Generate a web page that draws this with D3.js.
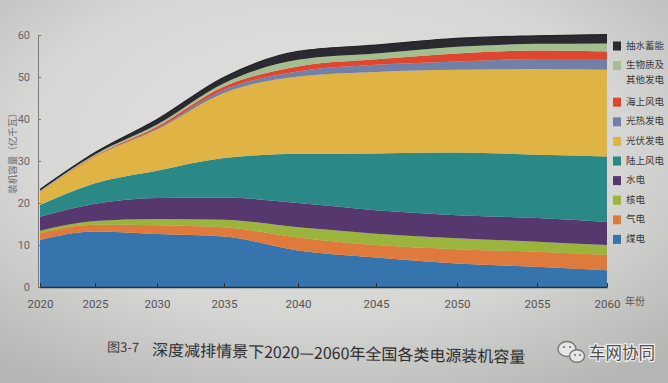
<!DOCTYPE html>
<html><head><meta charset="utf-8">
<script src="https://cdn.jsdelivr.net/npm/d3@7"></script>
<style>
html,body{margin:0;padding:0;overflow:hidden;background:#d4d4d2}
svg{display:block;font-family:"Noto Sans CJK SC","Noto Sans",sans-serif}
</style>
</head><body>
<svg id="chart" width="668" height="383"></svg>
<script>
// ---------------- data (亿千瓦) ----------------
const years = [2020, 2025, 2030, 2035, 2040, 2045, 2050, 2055, 2060];
const seriesNames = ["煤电", "气电", "核电", "水电", "陆上风电", "光伏发电", "光热发电", "海上风电", "生物质及其他发电", "抽水蓄能"];
const coal          = [11.2, 13.2, 12.6, 12.0, 8.7, 7.0, 5.6, 4.8, 4.0];
const gas           = [1.6, 1.6, 2.1, 2.2, 3.1, 3.0, 3.4, 3.6, 3.6];
const nuclear       = [0.6, 0.9, 1.5, 1.8, 2.4, 2.7, 2.6, 2.4, 2.4];
const hydro         = [3.3, 4.1, 5.0, 5.3, 5.8, 5.6, 5.5, 5.6, 5.5];
const onshoreWind   = [2.8, 4.9, 6.5, 9.4, 11.7, 13.5, 14.9, 15.1, 15.6];
const solarPV       = [3.0, 6.3, 9.8, 15.5, 18.4, 19.4, 19.7, 20.4, 20.6];
const solarThermal  = [0.01, 0.07, 0.23, 0.75, 1.2, 1.7, 2.0, 2.4, 2.6];
const offshoreWind  = [0.1, 0.18, 0.45, 0.78, 1.2, 1.3, 1.9, 2.0, 1.8];
const biomass       = [0.3, 0.3, 0.5, 0.78, 1.6, 1.4, 1.6, 1.6, 1.9];
const pumpedStorage = [0.3, 0.45, 1.2, 1.45, 2.0, 2.0, 2.0, 1.9, 2.1];
const yTicks = [0, 10, 20, 30, 40, 50, 60];
const yAxisTitle = "装机容量（亿千瓦）";
const xAxisUnit = "年份";
const captionNo = "图3-7";
const captionText = "深度减排情景下2020—2060年全国各类电源装机容量";
const watermark = "车网协同";
const legendLines = {"生物质及其他发电": ["生物质及", "其他发电"]};

// ---------------- styles / layout ----------------
const colors = ["#3674ae", "#e07a3c", "#9ab43c", "#56386f", "#2a8887", "#dfb344", "#7080a8", "#e0462f", "#a3bf90", "#2b2a30"];
const layout = {
  // tick positions along the photographed (perspective-bent) page
  xStops: [40, 95, 157, 224, 298, 376, 457, 537, 607],
  yBottom: 287, yTop: 35, axisX: 38
};

const svg = d3.select("#chart");
const defs = svg.append("defs");
const rg = defs.append("radialGradient").attr("id", "bg").attr("cx", "48%").attr("cy", "38%").attr("r", "75%");
rg.append("stop").attr("offset", "0%").attr("stop-color", "#e3e3e1");
rg.append("stop").attr("offset", "60%").attr("stop-color", "#d6d6d4");
rg.append("stop").attr("offset", "100%").attr("stop-color", "#b5b5b3");
svg.append("rect").attr("width", 668).attr("height", 383).attr("fill", "url(#bg)");

const x = d3.scaleLinear().domain(years).range(layout.xStops);
const y = d3.scaleLinear().domain([0, 60]).range([layout.yBottom, layout.yTop]);

const seriesValues = [coal, gas, nuclear, hydro, onshoreWind, solarPV, solarThermal, offshoreWind, biomass, pumpedStorage];
const table = years.map((yr, i) => {
  const row = {year: yr};
  seriesNames.forEach((n, j) => row[n] = seriesValues[j][i]);
  return row;
});
const stacked = d3.stack().keys(seriesNames)(table);
const area = d3.area()
  .x(d => x(d.data.year))
  .y0(d => y(d[0]))
  .y1(d => y(d[1]))
  .curve(d3.curveMonotoneX);

svg.append("g").selectAll("path").data(stacked).join("path")
  .attr("d", area)
  .attr("fill", (d, i) => colors[i]);

// top dark edge
const topLine = d3.line().x(d => x(d.data.year)).y(d => y(d[1])).curve(d3.curveMonotoneX);
svg.append("path").datum(stacked[stacked.length - 1]).attr("d", topLine)
  .attr("fill", "none").attr("stroke", "#232226").attr("stroke-width", 1.2);

// y axis
const gy = svg.append("g").attr("transform", `translate(${layout.axisX},0)`)
  .call(d3.axisLeft(y).tickValues(yTicks).tickSize(-3).tickPadding(8));
gy.select(".domain").attr("stroke", "#7a7a7a");
gy.selectAll(".tick line").attr("stroke", "#7a7a7a");
gy.selectAll("text").attr("fill", "#666").attr("font-size", 11).attr("font-family", "Roboto, 'Noto Sans', sans-serif");

svg.append("text")
  .attr("transform", `translate(13,${(layout.yBottom + layout.yTop) / 2 - 10}) rotate(-90)`)
  .attr("text-anchor", "middle").attr("dominant-baseline", "middle")
  .attr("font-size", 9.5).attr("fill", "#6a6a6a").text(yAxisTitle);

// x axis
const gx = svg.append("g").attr("transform", `translate(0,${layout.yBottom})`)
  .call(d3.axisBottom(x).tickValues(years).tickFormat(d3.format("d")).tickSize(-4).tickPadding(13).tickSizeOuter(0));
gx.select(".domain").attr("stroke", "#2e2e30").attr("stroke-width", 1.5);
gx.selectAll(".tick line").attr("stroke", "#2e2e30");
gx.selectAll("text").attr("fill", "#555").attr("font-size", 11.5).attr("font-family", "Roboto, 'Noto Sans', sans-serif");

svg.append("text").attr("x", x(2060) + 18).attr("y", layout.yBottom + 18)
  .attr("font-size", 10).attr("fill", "#555").text(xAxisUnit);

// legend
const legend = svg.append("g");
const order = seriesNames.map((n, i) => ({name: n, color: colors[i]})).reverse();
order.forEach((d, i) => {
  const yy = 46 + i * 19.6 + (i >= 2 ? 17 : 0);
  legend.append("rect").attr("x", 613).attr("y", yy - 4.5).attr("width", 8).attr("height", 9).attr("fill", d.color);
  const lines = legendLines[d.name] || [d.name];
  lines.forEach((t, k) => {
    legend.append("text").attr("x", 626).attr("y", yy + k * 15)
      .attr("dominant-baseline", "middle").attr("font-size", 9.5).attr("fill", "#3a3a3a").text(t);
  });
});

// caption
const cap = svg.append("g").attr("transform", "rotate(1.1, 330, 355)");
cap.append("text").attr("x", 107).attr("y", 356).attr("font-size", 13).attr("fill", "#3a3a3a").text(captionNo);
cap.append("text").attr("x", 152).attr("y", 359).attr("font-size", 16).attr("fill", "#2e2e2e").text(captionText);

// watermark
const wm = svg.append("g");
wm.append("ellipse").attr("cx", 567).attr("cy", 349).attr("rx", 9).attr("ry", 7.5)
  .attr("fill", "#e6e6e6").attr("stroke", "#777").attr("stroke-width", 1.4);
wm.append("ellipse").attr("cx", 577).attr("cy", 356).attr("rx", 7.5).attr("ry", 6.3)
  .attr("fill", "#e6e6e6").attr("stroke", "#777").attr("stroke-width", 1.4);
[[564, 347], [570, 347], [575, 355], [580, 355]].forEach(p =>
  wm.append("circle").attr("cx", p[0]).attr("cy", p[1]).attr("r", 1.1).attr("fill", "#777"));
wm.append("text").attr("x", 589).attr("y", 359).attr("font-size", 16.5).attr("fill", "#4e4e4e")
  .attr("stroke", "#eeeeee").attr("stroke-width", 2.5).attr("paint-order", "stroke").text(watermark);
</script>
</body></html>
